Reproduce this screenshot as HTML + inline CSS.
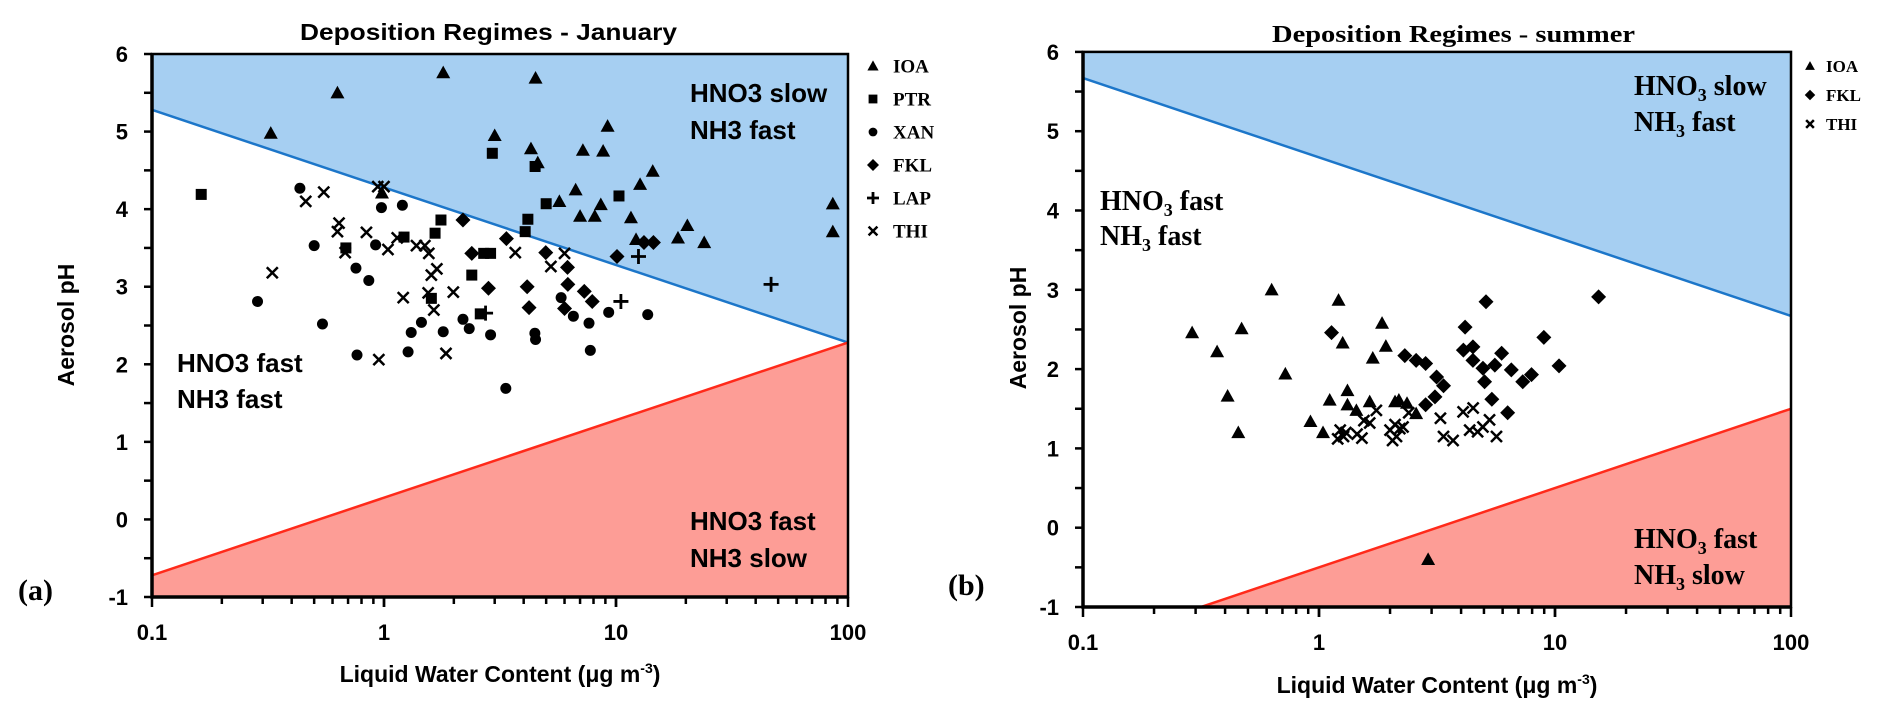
<!DOCTYPE html>
<html><head><meta charset="utf-8"><style>
html,body{margin:0;padding:0;background:#fff;}
svg{display:block;}
.sans{font-family:"Liberation Sans",sans-serif;font-weight:bold;}
.serif{font-family:"Liberation Serif",serif;font-weight:bold;}
</style></head><body>
<svg id="fig" width="1892" height="721" viewBox="0 0 1892 721" xmlns="http://www.w3.org/2000/svg">
<g id="pa"></g>
<g id="pb"></g>
<text class="sans" x="300" y="40" font-size="23" textLength="377" lengthAdjust="spacingAndGlyphs">Deposition Regimes - January</text>
<text class="sans" x="690" y="102" font-size="26">HNO3 slow</text>
<text class="sans" x="690" y="139" font-size="26">NH3 fast</text>
<text class="sans" x="177" y="372" font-size="26">HNO3 fast</text>
<text class="sans" x="177" y="408" font-size="26">NH3 fast</text>
<text class="sans" x="690" y="530" font-size="26">HNO3 fast</text>
<text class="sans" x="690" y="567" font-size="26">NH3 slow</text>
<text class="sans" x="500" y="682" font-size="23" text-anchor="middle">Liquid Water Content (μg m<tspan font-size="14" dy="-9">-3</tspan><tspan dy="9">)</tspan></text>
<text class="sans" transform="translate(74,325) rotate(-90)" font-size="23" text-anchor="middle">Aerosol pH</text>
<text class="serif" x="18" y="600" font-size="30">(a)</text>
<text class="serif" x="1272" y="42" font-size="24" textLength="363" lengthAdjust="spacingAndGlyphs">Deposition Regimes - summer</text>
<text class="serif" x="1634" y="95" font-size="28">HNO<tspan font-size="18" dy="6">3</tspan><tspan dy="-6"> slow</tspan></text>
<text class="serif" x="1634" y="131" font-size="28">NH<tspan font-size="18" dy="6">3</tspan><tspan dy="-6">  fast</tspan></text>
<text class="serif" x="1100" y="210" font-size="28">HNO<tspan font-size="18" dy="6">3</tspan><tspan dy="-6"> fast</tspan></text>
<text class="serif" x="1100" y="245" font-size="28">NH<tspan font-size="18" dy="6">3</tspan><tspan dy="-6">  fast</tspan></text>
<text class="serif" x="1634" y="548" font-size="28">HNO<tspan font-size="18" dy="6">3</tspan><tspan dy="-6"> fast</tspan></text>
<text class="serif" x="1634" y="584" font-size="28">NH<tspan font-size="18" dy="6">3</tspan><tspan dy="-6">  slow</tspan></text>
<text class="sans" x="1437" y="693" font-size="23" text-anchor="middle">Liquid Water Content (μg m<tspan font-size="14" dy="-9">-3</tspan><tspan dy="9">)</tspan></text>
<text class="sans" transform="translate(1026,328) rotate(-90)" font-size="23" text-anchor="middle">Aerosol pH</text>
<text class="serif" x="948" y="595" font-size="30">(b)</text>
</svg>
<script>
const aIOA_x=[1.8,0.63,0.325,4.5,3.0,4.3,4.6,7.2,8.8,9.2,14.4,12.7,6.7,5.7,8.6,7.0,8.1,11.6,12.2,20.3,18.5,24,0.98,86,86];
const aIOA_y=[5.76,5.50,4.98,5.69,4.95,4.78,4.60,4.76,4.75,5.07,4.49,4.32,4.25,4.10,4.06,3.91,3.91,3.89,3.61,3.79,3.63,3.57,4.21,4.07,3.71];
const aPTR_x=[0.163,2.93,4.48,5.0,4.17,4.06,10.3,1.76,1.66,1.22,0.685,2.39,1.6,2.69,2.88,2.6];
const aPTR_y=[4.19,4.72,4.55,4.07,3.87,3.71,4.17,3.86,3.69,3.64,3.50,3.15,2.85,3.43,3.43,2.65];
const aXAN_x=[0.434,0.975,1.2,0.5,0.92,0.757,0.86,0.285,0.543,0.765,1.27,1.31,1.45,1.8,2.19,2.33,2.88,4.47,4.5,5.8,6.55,7.65,7.75,9.3,13.7,3.35];
const aXAN_y=[4.27,4.02,4.05,3.53,3.54,3.24,3.08,2.81,2.52,2.12,2.16,2.41,2.54,2.42,2.58,2.46,2.38,2.40,2.32,2.86,2.62,2.53,2.18,2.67,2.64,1.69];
const aFKL_x=[2.19,3.37,2.39,2.82,4.14,4.22,4.98,6.18,6.2,7.3,7.9,6.0,10.1,13.2,14.5];
const aFKL_y=[3.86,3.62,3.43,2.98,3.00,2.73,3.44,3.25,3.03,2.94,2.81,2.72,3.39,3.57,3.57];
const aLAP_x=[12.5,10.5,2.74,46.6];
const aLAP_y=[3.39,2.81,2.66,3.03];
const aTHI_x=[0.46,0.55,0.94,1.0,0.64,0.63,0.84,0.68,1.04,1.14,1.38,1.5,1.56,1.69,1.6,0.33,1.21,1.55,1.99,1.64,3.68,6.0,5.24,0.95,1.85];
const aTHI_y=[4.10,4.22,4.29,4.29,3.82,3.71,3.70,3.44,3.48,3.63,3.53,3.53,3.43,3.23,3.15,3.18,2.86,2.92,2.93,2.70,3.44,3.43,3.26,2.06,2.14];
const aBlueLine=[5.28,2.28];
const aRedLine=[-0.72,2.28];
const bIOA_x=[0.63,1.21,0.47,1.85,1.26,1.92,1.69,0.72,0.41,0.455,0.92,1.04,1.11,1.32,1.32,1.64,2.1,2.9,0.29,0.37,1.44,2.18,2.36,2.58];
const bIOA_y=[3.0,2.87,2.51,2.58,2.33,2.29,2.14,1.94,1.66,1.20,1.34,1.20,1.61,1.73,1.55,1.59,1.59,-0.40,2.46,2.22,1.48,1.61,1.57,1.44];
const bFKL_x=[5.1,15.3,1.13,4.16,8.97,10.4,2.31,2.58,2.83,3.15,3.37,4.09,4.49,4.49,4.95,5.03,5.94,5.56,6.53,7.3,7.95,5.4,6.3,3.1,2.83];
const bFKL_y=[2.85,2.91,2.46,2.53,2.40,2.04,2.17,2.11,2.07,1.90,1.79,2.24,2.28,2.11,2.01,1.84,2.20,2.05,1.99,1.84,1.93,1.62,1.45,1.65,1.55];
const bTHI_x=[1.23,1.27,1.52,1.64,1.75,2.0,2.13,2.27,3.27,3.37,3.7,4.08,4.5,4.35,4.95,5.28,5.65,4.7,1.3,1.45,2.05,2.2,1.55,2.4,1.2,2.1];
const bTHI_y=[1.23,1.15,1.13,1.32,1.48,1.23,1.15,1.27,1.38,1.15,1.10,1.46,1.51,1.23,1.27,1.36,1.15,1.21,1.2,1.18,1.1,1.25,1.35,1.45,1.12,1.3];
const bBlueLine=[5.67,2.67];
const bRedLine=[-1.5,1.5];
const yTicks=[-1,0,1,2,3,4,5,6];
const xTickLabels=["0.1","1","10","100"];

const NS="http://www.w3.org/2000/svg";
function mk(parent,tag,attrs){const e=document.createElementNS(NS,tag);for(const k in attrs)e.setAttribute(k,attrs[k]);parent.appendChild(e);return e;}

function panel(g,cfg,series,legend,legendCfg){
  const sx=v=>cfg.x0+(Math.log10(v)+1)*cfg.dec;
  const sy=p=>cfg.yb-(p+1)*cfg.unit;
  const L=sx(0.1),R=sx(100),T=sy(6),B=sy(-1);
  const cid="clip"+cfg.id;
  const defs=mk(g,"defs",{});
  const cp=mk(defs,"clipPath",{id:cid});
  mk(cp,"rect",{x:L,y:T,width:R-L,height:B-T});
  const bl=cfg.blue, rl=cfg.red;
  const blue=mk(g,"polygon",{points:`${L},${T} ${R},${T} ${R},${sy(bl[1])} ${L},${sy(bl[0])}`,fill:"#a6cff2","clip-path":`url(#${cid})`});
  
  
  const red=mk(g,"polygon",{points:`${L},${sy(rl[0])} ${R},${sy(rl[1])} ${R},${B} ${L},${B}`,fill:"#fd9d96","clip-path":`url(#${cid})`});
  
  
  const bline=mk(g,"line",{x1:L,y1:sy(bl[0]),x2:R,y2:sy(bl[1]),stroke:"#1c76c9","stroke-width":2.5,"clip-path":`url(#${cid})`});
  
  
  const rline=mk(g,"line",{x1:L,y1:sy(rl[0]),x2:R,y2:sy(rl[1]),stroke:"#ff2a1a","stroke-width":2.5,"clip-path":`url(#${cid})`});
  
  
  const box=mk(g,"rect",{x:L,y:T,width:R-L,height:B-T,fill:"none",stroke:"#000","stroke-width":2.5});
  
  
  const ax=mk(g,"path",{d:`M${L},${T-1} V${B} H${R}`,fill:"none",stroke:"#000","stroke-width":3.5});
  
  
  for(let p=-1;p<=6;p+=0.5){
    const t=mk(g,"line",{x1:L-8,x2:L,y1:sy(p),y2:sy(p),stroke:"#000","stroke-width":2.5});
    
    
  }
  yTicks.forEach(p=>{
    const t=mk(g,"text",{x:L-24,y:sy(p)+8,"font-size":22,"text-anchor":"end",class:"sans"});
    t.textContent=String(p);
    
    
  });
  for(let d=-1;d<2;d++){for(let m=1;m<=10;m++){
    const v=m*Math.pow(10,d);const x=sx(v);const major=(m===1||m===10);
    const t=mk(g,"line",{x1:x,x2:x,y1:B,y2:B+(major?10:7),stroke:"#000","stroke-width":2.5});
    
    
  }}
  xTickLabels.forEach((s,i)=>{
    const t=mk(g,"text",{x:sx(Math.pow(10,i-1)),y:B+cfg.xlabOff,"font-size":22,"text-anchor":"middle",class:"sans"});
    t.textContent=s;
    
    
  });
  series.forEach(s=>{
    s.x.forEach((v,i)=>{
      const m=marker(g,s.shape,sx(v),sy(s.y[i]));
      
      
    });
  });
  legend.forEach((s,i)=>{
    const y=legendCfg.y0+i*legendCfg.dy;
    const m=marker(g,s.shape,legendCfg.mx,y,legendCfg.ms);
    
    
    const t=mk(g,"text",{x:legendCfg.tx,y:y+legendCfg.fs*0.35,"font-size":legendCfg.fs,class:"serif"});
    t.textContent=s.label;
    
    
  });
}
function marker(g,shape,x,y,sc){
  sc=sc||1;
  if(shape==="tri"){const h=7*sc;return mk(g,"polygon",{points:`${x},${y-h} ${x+h},${y+h*0.8} ${x-h},${y+h*0.8}`,fill:"#000"});}
  if(shape==="sq"){const h=5.5*sc;return mk(g,"rect",{x:x-h,y:y-h,width:2*h,height:2*h,fill:"#000"});}
  if(shape==="circ"){return mk(g,"circle",{cx:x,cy:y,r:5.5*sc,fill:"#000"});}
  if(shape==="dia"){const h=7.5*sc;return mk(g,"polygon",{points:`${x},${y-h} ${x+h},${y} ${x},${y+h} ${x-h},${y}`,fill:"#000"});}
  if(shape==="plus"){const h=7.5*sc;return mk(g,"path",{d:`M${x-h},${y}H${x+h}M${x},${y-h}V${y+h}`,stroke:"#000","stroke-width":2.8});}
  if(shape==="x"){const h=5.5*sc;return mk(g,"path",{d:`M${x-h},${y-h}L${x+h},${y+h}M${x-h},${y+h}L${x+h},${y-h}`,stroke:"#000","stroke-width":2.5});}
}
const aSeries=[
 {name:"ioa",label:"IOA",shape:"tri",x:aIOA_x,y:aIOA_y},
 {name:"ptr",label:"PTR",shape:"sq",x:aPTR_x,y:aPTR_y},
 {name:"xan",label:"XAN",shape:"circ",x:aXAN_x,y:aXAN_y},
 {name:"fkl",label:"FKL",shape:"dia",x:aFKL_x,y:aFKL_y},
 {name:"lap",label:"LAP",shape:"plus",x:aLAP_x,y:aLAP_y},
 {name:"thi",label:"THI",shape:"x",x:aTHI_x,y:aTHI_y}];
panel(document.getElementById("pa"),{id:"a",x0:152,dec:232,yb:597,unit:77.57,blue:aBlueLine,red:aRedLine,xlabOff:43},
  aSeries,aSeries,{mx:873,tx:893,y0:66,dy:33,fs:19,ms:0.8});
const bSeries=[
 {name:"ioa",label:"IOA",shape:"tri",x:bIOA_x,y:bIOA_y},
 {name:"fkl",label:"FKL",shape:"dia",x:bFKL_x,y:bFKL_y},
 {name:"thi",label:"THI",shape:"x",x:bTHI_x,y:bTHI_y}];
panel(document.getElementById("pb"),{id:"b",x0:1083,dec:236,yb:607,unit:79.3,blue:bBlueLine,red:bRedLine,xlabOff:43},
  bSeries,bSeries,{mx:1810,tx:1826,y0:66,dy:29,fs:17,ms:0.7});
</script>
</body></html>
